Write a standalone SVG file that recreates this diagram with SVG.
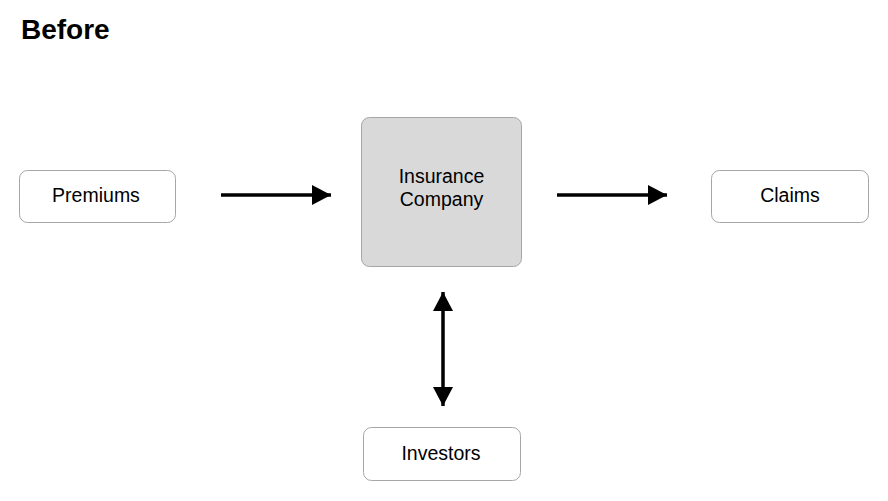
<svg xmlns="http://www.w3.org/2000/svg" width="888" height="501" viewBox="0 0 888 501">
<style>
.box{fill:#ffffff;stroke:#a6a6a6;stroke-width:1}
.core{fill:#d9d9d9;stroke:#a6a6a6;stroke-width:1}
.lbl{font-family:"Liberation Sans",Arial,sans-serif;font-size:19.5px;fill:#000;text-anchor:middle}
.title{font-family:"Liberation Sans",Arial,sans-serif;font-size:28px;font-weight:bold;fill:#000}
.conn{stroke:#000;stroke-width:3.5;fill:none}
</style>
<defs>
<marker id="ah" viewBox="0 0 19 20" refX="19" refY="10" markerWidth="19" markerHeight="20" markerUnits="userSpaceOnUse" orient="auto-start-reverse">
<path d="M0,0 L19,10 L0,20 Z" fill="#000"/>
</marker>
</defs>
<rect width="888" height="501" fill="#ffffff"/>
<text class="title" x="21" y="39">Before</text>
<g id="premiums">
<rect class="box" x="19.5" y="170.5" width="156" height="52" rx="8"/>
<text class="lbl" x="96" y="202">Premiums</text>
</g>
<g id="insurance-company">
<rect class="core" x="361.5" y="117.5" width="160" height="149" rx="8"/>
<text class="lbl" x="441.5" y="183">Insurance</text>
<text class="lbl" x="441.5" y="206">Company</text>
</g>
<g id="claims">
<rect class="box" x="711.5" y="170.5" width="157" height="52" rx="8"/>
<text class="lbl" x="790" y="202">Claims</text>
</g>
<g id="investors">
<rect class="box" x="363.5" y="427.5" width="157" height="53" rx="8"/>
<text class="lbl" x="441" y="460">Investors</text>
</g>
<g id="connectors">
<line class="conn" x1="221" y1="195" x2="331" y2="195" marker-end="url(#ah)"/>
<line class="conn" x1="557" y1="195" x2="667" y2="195" marker-end="url(#ah)"/>
<line class="conn" x1="443" y1="292" x2="443" y2="406" marker-start="url(#ah)" marker-end="url(#ah)"/>
</g>
</svg>
